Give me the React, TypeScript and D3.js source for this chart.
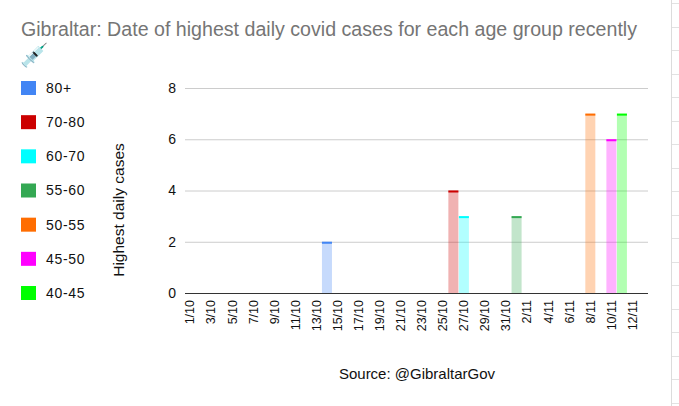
import * as d3 from 'd3';

const dates = [
  '1/10', '2/10', '3/10', '4/10', '5/10', '6/10', '7/10', '8/10', '9/10', '10/10',
  '11/10', '12/10', '13/10', '14/10', '15/10', '16/10', '17/10', '18/10', '19/10', '20/10',
  '21/10', '22/10', '23/10', '24/10', '25/10', '26/10', '27/10', '28/10', '29/10', '30/10',
  '31/10', '1/11', '2/11', '3/11', '4/11', '5/11', '6/11', '7/11', '8/11', '9/11',
  '10/11', '11/11', '12/11', '13/11',
];

const ageGroups = ['80+', '70-80', '60-70', '55-60', '50-55', '45-50', '40-45'];
const groupColors = ['#4285f4', '#cc0000', '#00ffff', '#34a853', '#ff6d01', '#ff00ff', '#00ff00'];
const peakDates = ['14/10', '26/10', '27/10', '1/11', '8/11', '10/11', '11/11'];
const peakCases = [2, 4, 3, 3, 7, 6, 7];
const yTicks = [0, 2, 4, 6, 8];

const W = 679;
const H = 406;
const font = 'Arial, "Liberation Sans", sans-serif';

export default function App() {
  const x = d3.scaleBand<string>().domain(dates).range([185, 648]).paddingInner(0.05);
  const y = d3.scaleLinear().domain([0, 8]).range([293, 88]);
  const legendY = d3.scalePoint<string>().domain(ageGroups).range([88, 293]);

  const bars = ageGroups.map((g, i) => ({
    group: g,
    color: groupColors[i],
    date: peakDates[i],
    value: peakCases[i],
  }));

  return (
    <div style={{ position: 'absolute', left: 0, top: 0 }}>
      <svg width={W} height={H} style={{ display: 'block', background: '#fff', fontFamily: font }}>
        <defs>
          <linearGradient id="syringe" x1="0" y1="1" x2="1" y2="0">
            <stop offset="0.45" stopColor="#7fb2dc" />
            <stop offset="0.55" stopColor="#d63c3c" />
          </linearGradient>
        </defs>

        {/* sheet edge */}
        <line x1={671.5} x2={671.5} y1={0} y2={H} stroke="#dcdcdc" />
        {d3.range(3, H, 23.5).map(v => (
          <line key={v} x1={672} x2={W} y1={Math.round(v) + 0.5} y2={Math.round(v) + 0.5} stroke="#e2e2e2" />
        ))}

        <text x={21} y={36} fontSize={20} fill="#757575" textLength={616} lengthAdjust="spacingAndGlyphs">
          Gibraltar: Date of highest daily covid cases for each age group recently
        </text>
        <text x={20} y={63} fontSize={23} fill="url(#syringe)">💉</text>

        {/* legend */}
        {ageGroups.map((g, i) => (
          <g key={g} transform={`translate(0,${legendY(g)})`}>
            <rect x={21} y={-7} width={15} height={14} fill={groupColors[i]} />
            <text x={46} dy="0.35em" fontSize={14} fill="#111" letterSpacing={0.7}>{g}</text>
          </g>
        ))}

        {/* grid */}
        {yTicks.map(t => (
          <g key={t}>
            <line x1={185} x2={648} y1={y(t) + 0.5} y2={y(t) + 0.5} stroke={t === 0 ? '#333' : '#cccccc'} />
            <text x={176} y={y(t)} dy="0.35em" textAnchor="end" fontSize={14} fill="#111">{t}</text>
          </g>
        ))}

        <text transform={`translate(124,210) rotate(-90)`} textAnchor="middle" fontSize={15.5} fill="#111">
          Highest daily cases
        </text>

        {/* bars */}
        {bars.map(b => {
          const bx = x(b.date) ?? 0;
          const top = y(b.value);
          return (
            <g key={b.group}>
              <rect x={bx} y={top} width={x.bandwidth()} height={y(0) - top} fill={b.color} fillOpacity={0.3} />
              <rect x={bx} y={top} width={x.bandwidth()} height={2} fill={b.color} />
            </g>
          );
        })}

        {/* x labels */}
        {dates.filter((_, i) => i % 2 === 0).map(d => (
          <text
            key={d}
            transform={`translate(${(x(d) ?? 0) + x.bandwidth() / 2},300) rotate(-90)`}
            dy="0.35em"
            textAnchor="end"
            fontSize={12.5}
            fill="#111"
          >
            {d}
          </text>
        ))}

        <text x={417} y={379} textAnchor="middle" fontSize={15} fill="#111">Source: @GibraltarGov</text>
      </svg>
    </div>
  );
}
